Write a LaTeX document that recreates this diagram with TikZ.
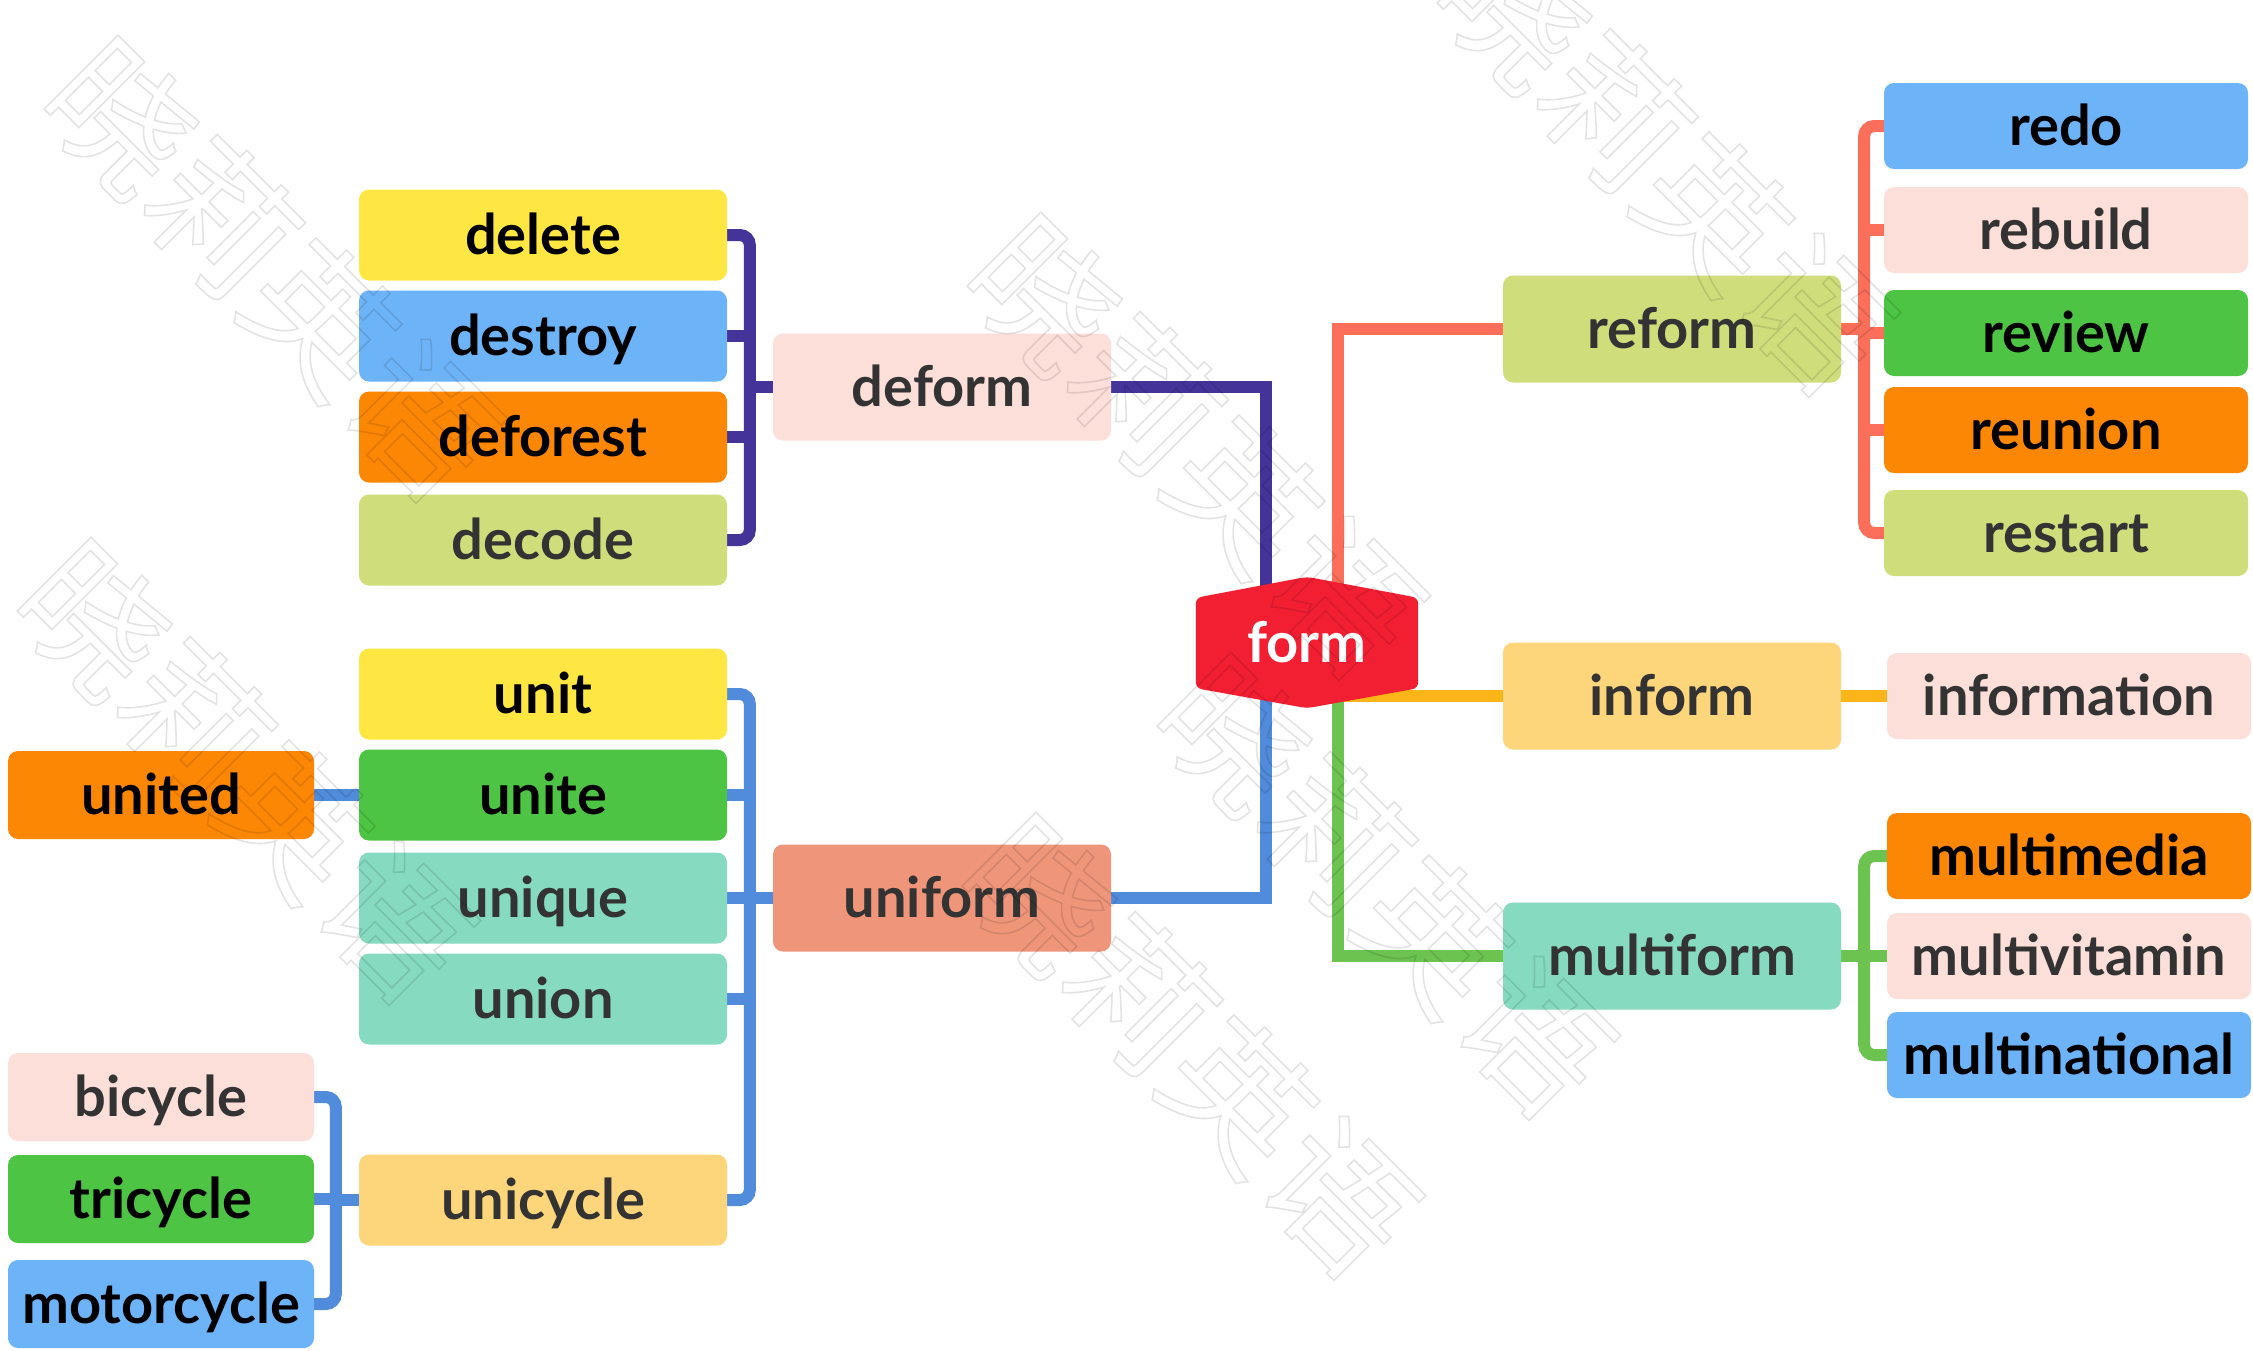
\documentclass[tikz,border=0pt]{standalone}
\usepackage{fontspec}
\setmainfont{Lato}
\newfontfamily\cjk{Noto Sans CJK SC}
\usetikzlibrary{calc}

\pgfdeclarelayer{bg}
\pgfsetlayers{bg,main}

% box fills
\definecolor{yellowbox}{HTML}{FFE743}
\definecolor{bluebox}{HTML}{6DB3F8}
\definecolor{orangebox}{HTML}{FC8704}
\definecolor{limebox}{HTML}{CFDE7B}
\definecolor{pinkbox}{HTML}{FDDFD9}
\definecolor{greenbox}{HTML}{4DC443}
\definecolor{mintbox}{HTML}{86DABF}
\definecolor{salmonbox}{HTML}{EF957A}
\definecolor{sandbox}{HTML}{FDD57A}
\definecolor{formred}{HTML}{F21F33}
\definecolor{textgray}{HTML}{333333}
% connector colours
\definecolor{lpurple}{HTML}{443399}
\definecolor{lred}{HTML}{FA6E5A}
\definecolor{lyellow}{HTML}{FBB516}
\definecolor{lblue}{HTML}{518BDB}
\definecolor{lgreen}{HTML}{6CC350}

\tikzset{
  word/.style={rounded corners=10pt, inner sep=0pt, text=textgray,
    font=\fontsize{56pt}{62pt}\selectfont\bfseries, text height=39pt, text depth=0pt},
  lbox/.style={word, minimum width=368pt, minimum height=91pt},
  mbox/.style={word, minimum width=338pt, minimum height=107pt},
  sbox/.style={word, minimum width=306pt, minimum height=88pt},
  rbox/.style={word, minimum width=364pt, minimum height=86pt},
  ink/.style={text=black},
  link/.style={line width=12pt},
  brace/.style={link, rounded corners=10pt},
  stamp/.style={rotate=-45, inner sep=0pt, text=black,
    font=\cjk\fontsize{142pt}{142pt}\selectfont}
}

\begin{document}
\begin{tikzpicture}[x=1pt,y=-1pt]
  \useasboundingbox (0,0) rectangle (2253,1350);

  % root
  \node[word, text=white, minimum width=222pt, minimum height=90pt] (form) at (1307,643) {form};

  % de-
  \node[mbox, fill=pinkbox] (deform) at (942,387) {deform};
  \node[lbox, fill=yellowbox, ink] (delete) at (543,235) {delete};
  \node[lbox, fill=bluebox, ink] (destroy) at (543,336) {destroy};
  \node[lbox, fill=orangebox, ink] (deforest) at (543,437) {deforest};
  \node[lbox, fill=limebox] (decode) at (543,540) {decode};

  % uni-
  \node[mbox, fill=salmonbox] (uniform) at (942,898) {uniform};
  \node[lbox, fill=yellowbox, ink] (unit) at (543,694) {unit};
  \node[lbox, fill=greenbox, ink] (unite) at (543,795) {unite};
  \node[lbox, fill=mintbox] (unique) at (543,898) {unique};
  \node[lbox, fill=mintbox] (union) at (543,999) {union};
  \node[lbox, fill=sandbox] (unicycle) at (543,1200) {unicycle};
  \node[sbox, fill=orangebox, ink] (united) at (161,795) {united};
  \node[sbox, fill=pinkbox] (bicycle) at (161,1097) {bicycle};
  \node[sbox, fill=greenbox, ink] (tricycle) at (161,1199) {tricycle};
  \node[sbox, fill=bluebox, ink] (motorcycle) at (161,1304) {motorcycle};

  % re-
  \node[mbox, fill=limebox] (reform) at (1672,329) {reform};
  \node[rbox, fill=bluebox, ink] (redo) at (2066,126) {redo};
  \node[rbox, fill=pinkbox] (rebuild) at (2066,230) {rebuild};
  \node[rbox, fill=greenbox, ink] (review) at (2066,333) {review};
  \node[rbox, fill=orangebox, ink] (reunion) at (2066,430) {reunion};
  \node[rbox, fill=limebox] (restart) at (2066,533) {restart};

  % in-
  \node[mbox, fill=sandbox] (inform) at (1672,696) {inform};
  \node[rbox, fill=pinkbox] (information) at (2069,696) {information};

  % multi-
  \node[mbox, fill=mintbox] (multiform) at (1672,956) {multiform};
  \node[rbox, fill=orangebox, ink] (multimedia) at (2069,856) {multimedia};
  \node[rbox, fill=pinkbox] (multivitamin) at (2069,956) {multivitamin};
  \node[rbox, fill=bluebox, ink] (multinational) at (2069,1055) {multinational};

  % junctions
  \coordinate (jd) at ($(deform.west)+(-23,0)$);
  \coordinate (ju) at ($(uniform.west)+(-23,0)$);
  \coordinate (jc) at ($(unicycle.west)+(-23,0)$);
  \coordinate (jr) at ($(reform.east)+(23,0)$);
  \coordinate (jm) at ($(multiform.east)+(23,0)$);

  \begin{pgfonlayer}{bg}
    \fill[white] (0,0) rectangle (2253,1350);

    % de-
    \draw[link, lpurple] (deform.east) -| ([xshift=-41pt]form.center);
    \draw[brace, lpurple] (delete.east) -| (jd) |- (decode.east);
    \draw[link, lpurple] (jd) -- (deform.west);
    \draw[link, lpurple] (destroy.east) -- (destroy.east -| jd);
    \draw[link, lpurple] (deforest.east) -- (deforest.east -| jd);

    % uni-
    \draw[link, lblue] (uniform.east) -| ([xshift=-41pt]form.center);
    \draw[brace, lblue] (unit.east) -| (ju) |- (unicycle.east);
    \draw[link, lblue] (ju) -- (uniform.west);
    \draw[link, lblue] (unite.east) -- (unite.east -| ju);
    \draw[link, lblue] (unique.east) -- (unique.east -| ju);
    \draw[link, lblue] (union.east) -- (union.east -| ju);
    \draw[link, lblue] (united.east) -- (unite.west);
    \draw[brace, lblue] (bicycle.east) -| (jc) |- (motorcycle.east);
    \draw[link, lblue] (jc) -- (unicycle.west);
    \draw[link, lblue] (tricycle.east) -- (tricycle.east -| jc);

    % re-
    \draw[link, lred] (reform.west) -| ([xshift=31pt]form.center);
    \draw[brace, lred] (redo.west) -| (jr) |- (restart.west);
    \draw[link, lred] (reform.east) -- (jr);
    \draw[link, lred] (rebuild.west) -- (rebuild.west -| jr);
    \draw[link, lred] (review.west) -- (review.west -| jr);
    \draw[link, lred] (reunion.west) -- (reunion.west -| jr);

    % in-
    \draw[link, lyellow] (inform.west) -- (inform.west -| form.center);
    \draw[link, lyellow] (inform.east) -- (information.west);

    % multi-
    \draw[link, lgreen] (multiform.west) -| ([xshift=31pt]form.center);
    \draw[brace, lgreen] (multimedia.west) -| (jm) |- (multinational.west);
    \draw[link, lgreen] (multiform.east) -- (jm);
    \draw[link, lgreen] (multivitamin.west) -- (multivitamin.west -| jm);

    % hexagon under the root text
    \fill[formred, rounded corners=6pt] (form.north west) -- ($(form.north)+(0,-21)$)
      -- (form.north east) -- (form.south east) -- ($(form.south)+(0,20)$)
      -- (form.south west) -- cycle;
  \end{pgfonlayer}

  % watermark
  \begin{scope}[opacity=0.11]
    \foreach \x/\y [count=\i] in {272/268, 1665/162, 1195/445, 245/770, 1385/885, 1190/1045}
      \node[stamp] (wm\i) at (\x,\y)
        {\special{pdf:literal direct 1 Tr 1.6 w}晓莉英语\special{pdf:literal direct 0 Tr}};
  \end{scope}
\end{tikzpicture}
\end{document}
